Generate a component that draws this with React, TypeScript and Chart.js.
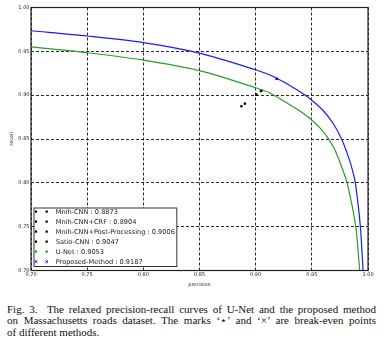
import React, { useEffect, useRef } from "react";
import { Chart, registerables } from "chart.js";

Chart.register(...registerables);

// Proposed method PR curve
const proposedPrecision = [0.70, 0.75, 0.80, 0.85, 0.90, 0.9126, 0.9187, 0.9304, 0.9422, 0.9497, 0.9600, 0.9689, 0.9763, 0.9822, 0.9867, 0.9890, 0.9932, 0.9956];
const proposedRecall = [0.9735, 0.9675, 0.960, 0.948, 0.929, 0.9230, 0.9192, 0.9110, 0.9015, 0.8945, 0.8825, 0.8680, 0.8505, 0.8310, 0.8120, 0.7980, 0.75, 0.70];

// U-Net PR curve
const unetPrecision = [0.70, 0.75, 0.80, 0.85, 0.90, 0.9126, 0.9304, 0.9422, 0.9497, 0.9585, 0.9644, 0.9704, 0.9763, 0.9815, 0.9891, 0.9926];
const unetRecall = [0.955, 0.9484, 0.940, 0.928, 0.9085, 0.9025, 0.8890, 0.8795, 0.8720, 0.8610, 0.8510, 0.8380, 0.8190, 0.7995, 0.75, 0.70];

// Break-even points
const methodNames = ["Mnih-CNN", "Mnih-CNN+CRF", "Mnih-CNN+Post-Processing", "Satio-CNN", "U-Net", "Proposed-Method"];
const breakEven = [0.8873, 0.8904, 0.9006, 0.9047, 0.9053, 0.9187];
const methodColors = ["#000000", "#000000", "#000000", "#000000", "#1f9a1f", "#0000ff"];
const methodMarkers = ["star", "star", "star", "star", "star", "crossRot"];

const axisTicks = [0.70, 0.75, 0.80, 0.85, 0.90, 0.95, 1.00];

const FONT = "'DejaVu Sans', sans-serif";

const framePlugin = {
  id: "frameAndLegend",
  afterDraw(chart: any) {
    const { ctx, chartArea } = chart;
    ctx.save();
    ctx.setLineDash([]);
    ctx.strokeStyle = "#222";
    ctx.lineWidth = 1.2;
    ctx.strokeRect(chartArea.left, chartArea.top, chartArea.right - chartArea.left, chartArea.bottom - chartArea.top);

    // legend
    const rowH = 10;
    const n = methodNames.length;
    const boxLeft = chartArea.left + 3;
    const boxBottom = chartArea.bottom - 4;
    const boxH = n * rowH - 1.5;
    const boxTop = boxBottom - boxH;
    ctx.font = `6.6px ${FONT}`;
    const labels = methodNames.map((m, i) => `${m} : ${breakEven[i].toFixed(4)}`);
    const textX = boxLeft + 21.7;
    let maxW = 0;
    labels.forEach((l) => { maxW = Math.max(maxW, ctx.measureText(l).width); });
    const boxRight = textX + maxW + 2;
    ctx.fillStyle = "#fff";
    ctx.fillRect(boxLeft, boxTop, boxRight - boxLeft, boxH);
    ctx.strokeStyle = "#333";
    ctx.lineWidth = 1;
    ctx.strokeRect(boxLeft, boxTop, boxRight - boxLeft, boxH);
    labels.forEach((l, i) => {
      const cy = boxTop + 3.6 + i * rowH;
      const col = methodColors[i];
      [boxLeft + 2, boxLeft + 12.7].forEach((mx) => {
        ctx.strokeStyle = col;
        ctx.fillStyle = col;
        ctx.lineWidth = 1;
        if (methodMarkers[i] === "crossRot") {
          ctx.beginPath();
          ctx.moveTo(mx - 1.3, cy - 1.3); ctx.lineTo(mx + 1.3, cy + 1.3);
          ctx.moveTo(mx - 1.3, cy + 1.3); ctx.lineTo(mx + 1.3, cy - 1.3);
          ctx.stroke();
        } else {
          ctx.fillRect(mx - 1.1, cy - 1.1, 2.2, 2.2);
        }
      });
      ctx.fillStyle = "#222";
      ctx.textBaseline = "middle";
      ctx.textAlign = "left";
      ctx.fillText(l, textX, cy + 0.3);
    });
    ctx.restore();
  },
};

export default function App() {
  const ref = useRef<HTMLCanvasElement>(null);

  useEffect(() => {
    if (!ref.current) return;
    const curve = (xs: number[], ys: number[]) => xs.map((x, i) => ({ x, y: ys[i] }));
    const markerSets = methodNames.map((name, i) => ({
      label: name,
      data: [{ x: breakEven[i], y: breakEven[i] }],
      showLine: false,
      pointStyle: methodMarkers[i],
      pointRadius: methodMarkers[i] === "crossRot" ? 1.6 : 1.3,
      pointBorderWidth: 1.1,
      borderColor: methodColors[i],
      backgroundColor: methodColors[i],
    }));
    const chart = new Chart(ref.current, {
      type: "scatter",
      data: {
        datasets: [
          ...markerSets,
          {
            label: "Proposed curve",
            data: curve(proposedPrecision, proposedRecall),
            showLine: true,
            borderColor: "#1a1aff",
            borderWidth: 1.2,
            pointRadius: 0,
            tension: 0.3,
          } as any,
          {
            label: "U-Net curve",
            data: curve(unetPrecision, unetRecall),
            showLine: true,
            borderColor: "#2a9d2a",
            borderWidth: 1.2,
            pointRadius: 0,
            tension: 0.3,
          } as any,
        ],
      },
      options: {
        animation: false,
        responsive: false,
        devicePixelRatio: 1,
        layout: { padding: { left: 0, top: 7.5, right: 16, bottom: 0 } },
        plugins: { legend: { display: false }, tooltip: { enabled: false } },
        scales: {
          x: {
            type: "linear",
            min: 0.7,
            max: 1.0,
            afterBuildTicks: (s: any) => { s.ticks = axisTicks.map((v) => ({ value: v })); },
            afterFit: (s: any) => { s.height = 21.5; },
            ticks: {
              font: { family: FONT, size: 5 },
              color: "#222",
              padding: 1.5,
              callback: (v: any) => Number(v).toFixed(2),
              maxRotation: 0,
            },
            grid: { color: "#111", lineWidth: 0.9, drawTicks: false },
            border: { display: false, dash: [3, 2] },
            title: { display: true, text: "precision", font: { family: FONT, size: 5 }, color: "#222", padding: { top: 0, bottom: 4 } },
          },
          y: {
            type: "linear",
            min: 0.7,
            max: 1.0,
            afterBuildTicks: (s: any) => { s.ticks = axisTicks.map((v) => ({ value: v })); },
            afterFit: (s: any) => { s.width = 31; },
            ticks: {
              font: { family: FONT, size: 5 },
              color: "#222",
              padding: 1.5,
              callback: (v: any) => Number(v).toFixed(2),
            },
            grid: { color: "#111", lineWidth: 0.9, drawTicks: false },
            border: { display: false, dash: [3, 2] },
            title: { display: true, text: "recall", font: { family: FONT, size: 5 }, color: "#222", padding: { top: 8.5, bottom: 0 } },
          },
        },
      },
      plugins: [framePlugin],
    } as any);
    return () => chart.destroy();
  }, []);

  return (
    <div style={{ position: "absolute", left: 0, top: 0, width: 384, height: 344, background: "#fff", overflow: "hidden" }}>
      <canvas ref={ref} width={384} height={292} style={{ position: "absolute", left: 0, top: 0, width: 384, height: 292 }} />
      <div
        style={{
          position: "absolute",
          left: 7,
          top: 304,
          width: 369,
          fontFamily: "'Liberation Serif', 'Times New Roman', serif",
          fontSize: 11,
          lineHeight: "11.3px",
          color: "#111",
        }}
      >
        <div style={{ textAlign: "justify", textAlignLast: "justify" }}>Fig. 3.&nbsp; The relaxed precision-recall curves of U-Net and the proposed method</div>
        <div style={{ textAlign: "justify", textAlignLast: "justify" }}>on Massachusetts roads dataset. The marks ‘⋆’ and ‘×’ are break-even points</div>
        <div>of different methods.</div>
      </div>
    </div>
  );
}
